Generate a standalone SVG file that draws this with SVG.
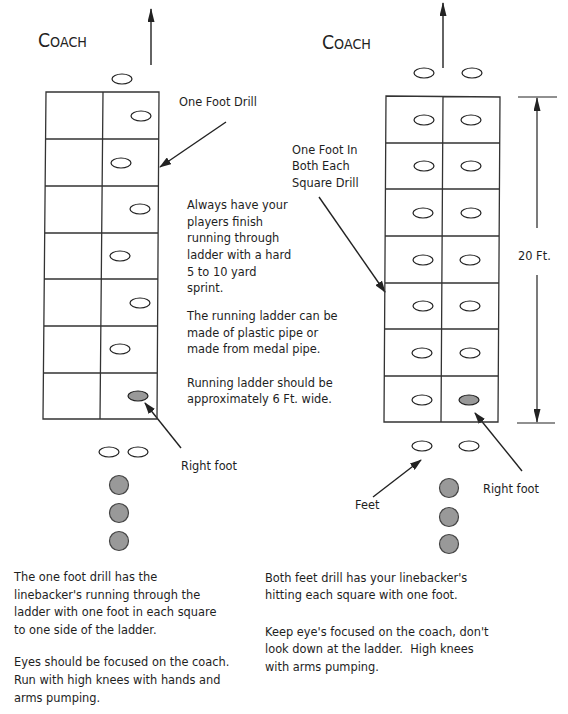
<svg xmlns="http://www.w3.org/2000/svg" width="568" height="714" viewBox="0 0 568 714">
<style>
.t{font-family:"DejaVu Sans","Liberation Sans",sans-serif;font-size:11.4px;fill:#1e1e1e}
.c{font-family:"DejaVu Sans","Liberation Sans",sans-serif;fill:#222}
.lad{fill:none;stroke:#333;stroke-width:1.3}
.ov{fill:#fff;stroke:#222;stroke-width:1.2}
.fo{fill:#999;stroke:#222;stroke-width:1.2}
.ci{fill:#999;stroke:#444;stroke-width:1.2}
.ar{fill:none;stroke:#222;stroke-width:1.4}
.dm{fill:none;stroke:#222;stroke-width:1.2}
</style>
<defs>
<marker id="ah" markerWidth="12" markerHeight="8" refX="11" refY="4" orient="auto" markerUnits="userSpaceOnUse">
<path d="M0,0 L12,4 L0,8 Z" fill="#222"/>
</marker>
<marker id="ahs" markerWidth="14" markerHeight="7" refX="13" refY="3.5" orient="auto" markerUnits="userSpaceOnUse">
<path d="M0,0 L14,3.5 L0,7 Z" fill="#222"/>
</marker>
</defs>
<rect width="568" height="714" fill="#fff"/>

<g id="connectors">
<line class="ar" x1="151" y1="65" x2="151" y2="9" marker-end="url(#ahs)"/>
<line class="ar" x1="443" y1="68" x2="443" y2="3" marker-end="url(#ahs)"/>
<line class="ar" x1="226" y1="122" x2="160" y2="167" marker-end="url(#ah)"/>
<line class="ar" x1="181" y1="448" x2="145" y2="403" marker-end="url(#ah)"/>
<line class="ar" x1="319" y1="197" x2="385" y2="292" marker-end="url(#ah)"/>
<line class="ar" x1="373" y1="497" x2="421" y2="460" marker-end="url(#ah)"/>
<line class="ar" x1="522" y1="471" x2="475" y2="413" marker-end="url(#ah)"/>
<g id="dimension">
<line class="dm" x1="518" y1="97" x2="557" y2="97"/>
<line class="dm" x1="517" y1="423" x2="555" y2="423"/>
<line class="dm" x1="537" y1="228" x2="537" y2="98" marker-end="url(#ahs)"/>
<line class="dm" x1="537" y1="275" x2="537" y2="422" marker-end="url(#ahs)"/>
</g>
</g>

<g id="left-coach"><text class="c" x="38" y="47" textLength="49" lengthAdjust="spacingAndGlyphs"><tspan font-size="19">C</tspan><tspan font-size="14">OACH</tspan></text></g>
<g id="right-coach"><text class="c" x="322" y="49" textLength="49" lengthAdjust="spacingAndGlyphs"><tspan font-size="19">C</tspan><tspan font-size="14">OACH</tspan></text></g>

<g id="left-ladder">
<path class="lad" d="M46,92 L159,92 L157,419 L43,419 Z M103,92 L100,419 M45.8,139 L158.7,139 M45.4,186 L158.4,186 M45,233 L158.1,233 M44.7,279 L157.9,279 M44.3,326 L157.6,326 M44,373 L157.3,373"/>
<ellipse class="ov" cx="122" cy="79" rx="10" ry="5"/>
<ellipse class="ov" cx="141" cy="116" rx="10" ry="5"/>
<ellipse class="ov" cx="121" cy="163" rx="10" ry="5"/>
<ellipse class="ov" cx="140" cy="209" rx="10" ry="5"/>
<ellipse class="ov" cx="120" cy="256" rx="10" ry="5"/>
<ellipse class="ov" cx="140" cy="303" rx="10" ry="5"/>
<ellipse class="ov" cx="120" cy="349" rx="10" ry="5"/>
<ellipse class="fo" cx="138" cy="396" rx="10" ry="5"/>
<ellipse class="ov" cx="109" cy="452" rx="10" ry="5"/>
<ellipse class="ov" cx="138" cy="452" rx="10" ry="5"/>
<circle class="ci" cx="119" cy="485" r="9.5"/>
<circle class="ci" cx="119" cy="513" r="9.5"/>
<circle class="ci" cx="119" cy="541" r="9.5"/>
</g>

<g id="right-ladder">
<path class="lad" d="M386,96 L500,97 L498,422 L384,422 Z M443,96 L441,422 M385.7,143 L499.7,143 M385.4,189 L499.4,189 M385.1,236 L499.1,236 M384.8,283 L498.8,283 M384.6,329 L498.6,329 M384.3,376 L498.3,376"/>
<ellipse class="ov" cx="424" cy="73" rx="10" ry="5"/>
<ellipse class="ov" cx="472" cy="73" rx="10" ry="5"/>
<ellipse class="ov" cx="424" cy="120" rx="10" ry="5"/>
<ellipse class="ov" cx="471" cy="120" rx="10" ry="5"/>
<ellipse class="ov" cx="424" cy="166" rx="10" ry="5"/>
<ellipse class="ov" cx="471" cy="166" rx="10" ry="5"/>
<ellipse class="ov" cx="423" cy="213" rx="10" ry="5"/>
<ellipse class="ov" cx="471" cy="213" rx="10" ry="5"/>
<ellipse class="ov" cx="423" cy="260" rx="10" ry="5"/>
<ellipse class="ov" cx="470" cy="260" rx="10" ry="5"/>
<ellipse class="ov" cx="423" cy="306" rx="10" ry="5"/>
<ellipse class="ov" cx="470" cy="306" rx="10" ry="5"/>
<ellipse class="ov" cx="422" cy="353" rx="10" ry="5"/>
<ellipse class="ov" cx="470" cy="353" rx="10" ry="5"/>
<ellipse class="ov" cx="422" cy="400" rx="10" ry="5"/>
<ellipse class="fo" cx="469" cy="400" rx="10" ry="5"/>
<ellipse class="ov" cx="422" cy="446" rx="10" ry="5"/>
<ellipse class="ov" cx="469" cy="446" rx="10" ry="5"/>
<circle class="ci" cx="449" cy="488" r="9.5"/>
<circle class="ci" cx="449" cy="517" r="9.5"/>
<circle class="ci" cx="449" cy="544" r="9.5"/>
</g>

<g id="labels">
<text class="t" x="179" y="106">One Foot Drill</text>
<text class="t" x="292" y="154">One Foot In</text>
<text class="t" x="292" y="170">Both Each</text>
<text class="t" x="292" y="187">Square Drill</text>
<text class="t" x="518" y="260">20 Ft.</text>
<text class="t" x="181" y="470">Right foot</text>
<text class="t" x="483" y="493">Right foot</text>
<text class="t" x="355" y="509">Feet</text>
</g>

<g id="notes-middle">
<text class="t" x="187" y="209">Always have your</text>
<text class="t" x="187" y="226">players finish</text>
<text class="t" x="187" y="242">running through</text>
<text class="t" x="187" y="259">ladder with a hard</text>
<text class="t" x="187" y="276">5 to 10 yard</text>
<text class="t" x="187" y="292">sprint.</text>
<text class="t" x="187" y="320">The running ladder can be</text>
<text class="t" x="187" y="337">made of plastic pipe or</text>
<text class="t" x="187" y="353">made from medal pipe.</text>
<text class="t" x="187" y="387">Running ladder should be</text>
<text class="t" x="187" y="403">approximately 6 Ft. wide.</text>
</g>

<g id="notes-left">
<text class="t" x="14" y="581">The one foot drill has the</text>
<text class="t" x="14" y="599">linebacker's running through the</text>
<text class="t" x="14" y="616">ladder with one foot in each square</text>
<text class="t" x="14" y="634">to one side of the ladder.</text>
<text class="t" x="14" y="666">Eyes should be focused on the coach.</text>
<text class="t" x="14" y="684">Run with high knees with hands and</text>
<text class="t" x="14" y="702">arms pumping.</text>
</g>

<g id="notes-right">
<text class="t" x="265" y="582">Both feet drill has your linebacker's</text>
<text class="t" x="265" y="599">hitting each square with one foot.</text>
<text class="t" x="265" y="636">Keep eye's focused on the coach, don't</text>
<text class="t" x="265" y="653" xml:space="preserve">look down at the ladder.  High knees</text>
<text class="t" x="265" y="671">with arms pumping.</text>
</g>
</svg>
